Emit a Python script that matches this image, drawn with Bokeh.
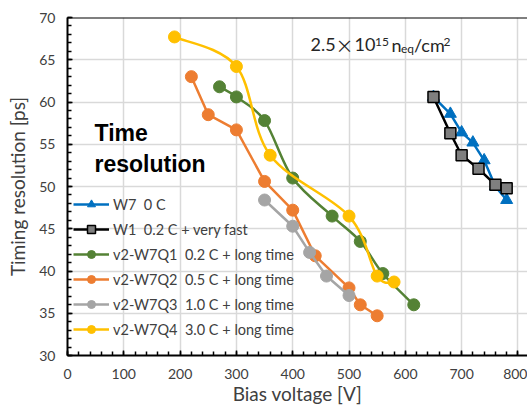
from bokeh.plotting import figure
from bokeh.models import (Range1d, SingleIntervalTicker, Legend, LegendItem, Label, Span,
                          ColumnDataSource)
from bokeh.embed import file_html
from bokeh.resources import INLINE

# ---- data ----
w7_v = [650, 680, 700, 720, 740, 760, 780]
w7_t = [60.6, 58.6, 56.4, 55.2, 53.1, 50.0, 48.4]

w1_v = [650, 680, 700, 730, 760, 780]
w1_t = [60.6, 56.3, 53.7, 52.1, 50.2, 49.8]

q1_v = [270, 300, 350, 400, 470, 520, 560, 615]
q1_t = [61.8, 60.6, 57.8, 51.0, 46.5, 43.5, 39.7, 36.0]

q2_v = [220, 250, 300, 350, 400, 440, 500, 520, 550]
q2_t = [63.0, 58.5, 56.7, 50.6, 47.2, 41.8, 38.0, 36.0, 34.7]

q3_v = [350, 400, 430, 460, 500]
q3_t = [48.4, 45.3, 42.2, 39.4, 37.1]

q4_v = [190, 300, 360, 500, 550, 580]
q4_t = [67.7, 64.2, 53.7, 46.5, 39.4, 38.7]

labels = ["W7  0 C", "W1  0.2 C + very fast", "v2-W7Q1  0.2 C + long time",
          "v2-W7Q2  0.5 C + long time", "v2-W7Q3  1.0 C + long time",
          "v2-W7Q4  3.0 C + long time"]
x_title = "Bias voltage [V]"
y_title = "Timing resolution [ps]"

FONT = "Lato"
TXT = "#404040"

p = figure(width=527, height=408, output_backend="svg", toolbar_location=None,
           x_range=Range1d(0, 817), y_range=Range1d(30, 70),
           min_border_left=67, min_border_right=0, min_border_top=17, min_border_bottom=53)
p.outline_line_color = None
p.background_fill_color = "white"
p.border_fill_color = "white"

# axes
p.xaxis.ticker = SingleIntervalTicker(interval=100, num_minor_ticks=5)
p.yaxis.ticker = SingleIntervalTicker(interval=5, num_minor_ticks=5)
for ax in (p.xaxis[0], p.yaxis[0]):
    ax.axis_line_color = "black"
    ax.axis_line_width = 2
    ax.major_tick_in = 5
    ax.major_tick_out = 0
    ax.minor_tick_in = 4
    ax.minor_tick_out = 0
    ax.major_tick_line_color = "black"
    ax.minor_tick_line_color = "black"
    ax.major_tick_line_width = 1.5
    ax.minor_tick_line_width = 1.5
    ax.major_label_text_font = FONT
    ax.major_label_text_font_size = "14px"
    ax.major_label_text_color = TXT
    ax.axis_label_text_font = FONT
    ax.axis_label_text_font_size = "19px"
    ax.axis_label_text_font_style = "normal"
    ax.axis_label_text_color = TXT
p.xaxis.axis_label = x_title
p.yaxis.axis_label = y_title
p.xaxis.major_label_standoff = 13
p.yaxis.major_label_standoff = 12
p.xaxis.axis_label_standoff = 0
p.yaxis.axis_label_standoff = 7

p.grid.grid_line_color = "#d9d9d9"
p.grid.grid_line_width = 1.5

p.add_layout(Span(location=70, dimension="width", line_color="black", line_width=2))

BLUE = "#0070C0"
GREEN = "#548235"
ORANGE = "#ED7D31"
GREY = "#A5A5A5"
YELLOW = "#FFC000"
LW = 2.5


def smooth(xs, ys, color):
    """Excel-like smoothed line: cubic Bezier segments (Catmull-Rom control points)."""
    n = len(xs)
    x0, y0, x1, y1, cx0, cy0, cx1, cy1 = [], [], [], [], [], [], [], []
    for i in range(n - 1):
        xp, yp = (xs[i - 1], ys[i - 1]) if i > 0 else (xs[i], ys[i])
        xn, yn = (xs[i + 2], ys[i + 2]) if i + 2 < n else (xs[i + 1], ys[i + 1])
        x0.append(xs[i]); y0.append(ys[i]); x1.append(xs[i + 1]); y1.append(ys[i + 1])
        cx0.append(xs[i] + (xs[i + 1] - xp) / 6); cy0.append(ys[i] + (ys[i + 1] - yp) / 6)
        cx1.append(xs[i + 1] - (xn - xs[i]) / 6); cy1.append(ys[i + 1] - (yn - ys[i]) / 6)
    src = ColumnDataSource(dict(x0=x0, y0=y0, x1=x1, y1=y1, cx0=cx0, cy0=cy0, cx1=cx1, cy1=cy1))
    return p.bezier(x0="x0", y0="y0", x1="x1", y1="y1", cx0="cx0", cy0="cy0", cx1="cx1",
                    cy1="cy1", source=src, line_color=color, line_width=LW)


items = []
# W7 (blue triangles)
l = p.line(w7_v, w7_t, line_color=BLUE, line_width=LW)
s = p.scatter(w7_v, w7_t, marker="triangle", size=12, fill_color=BLUE, line_color=BLUE)
items.append(LegendItem(label=labels[0], renderers=[l, s]))
# W1 (black line, grey squares)
l = p.line(w1_v, w1_t, line_color="black", line_width=LW)
s = p.scatter(w1_v, w1_t, marker="square", size=11, fill_color="#7F7F7F", line_color="black",
              line_width=1.5)
items.append(LegendItem(label=labels[1], renderers=[l, s]))
# Q1 green (smoothed)
l = smooth(q1_v, q1_t, GREEN)
s = p.scatter(q1_v, q1_t, marker="circle", size=12, fill_color=GREEN, line_color=GREEN)
items.append(LegendItem(label=labels[2], renderers=[l, s]))
# Q2 orange
l = p.line(q2_v, q2_t, line_color=ORANGE, line_width=LW)
s = p.scatter(q2_v, q2_t, marker="circle", size=12, fill_color=ORANGE, line_color=ORANGE)
items.append(LegendItem(label=labels[3], renderers=[l, s]))
# Q3 grey
l = p.line(q3_v, q3_t, line_color=GREY, line_width=LW)
s = p.scatter(q3_v, q3_t, marker="circle", size=12, fill_color=GREY, line_color=GREY)
items.append(LegendItem(label=labels[4], renderers=[l, s]))
# Q4 yellow (smoothed)
l = smooth(q4_v, q4_t, YELLOW)
s = p.scatter(q4_v, q4_t, marker="circle", size=12, fill_color=YELLOW, line_color=YELLOW)
items.append(LegendItem(label=labels[5], renderers=[l, s]))

legend = Legend(items=items, location=(6, 16), padding=4, spacing=5,
                glyph_width=36, glyph_height=20, label_height=20, label_standoff=4,
                label_text_font=FONT, label_text_font_size="14.5px", label_text_color=TXT,
                background_fill_alpha=0, border_line_color=None)
p.add_layout(legend)

# "Time resolution" title
for txt, y in (("Time", 223), ("resolution", 192)):
    p.add_layout(Label(x=27, y=y, x_units="screen", y_units="screen", text=txt,
                       text_font="Liberation Sans", text_font_style="bold",
                       text_font_size="23px", text_color="black", text_baseline="alphabetic"))

# fluence annotation
ann = [("2.5", 243, 310.7, "18px", FONT, "left"),
       ("\u00d7", 277, 310.7, "18px", "Noto Sans CJK JP", "center"),
       ("10", 287, 310.7, "18px", FONT, "left"),
       ("15", 307.5, 313.3, "12px", FONT, "left"),
       ("n", 324, 310.7, "18px", FONT, "left"),
       ("eq", 333.5, 306.7, "12px", FONT, "left"),
       ("/cm", 346.5, 310.7, "18px", FONT, "left"),
       ("2", 376, 313.3, "12px", FONT, "left")]
for txt, x, y, fs, f, al in ann:
    p.add_layout(Label(x=x, y=y, x_units="screen", y_units="screen", text=txt,
                       text_font=f, text_font_size=fs, text_color="#262626",
                       text_baseline="alphabetic", text_align=al))

open("out.html", "w").write(file_html(p, INLINE))
